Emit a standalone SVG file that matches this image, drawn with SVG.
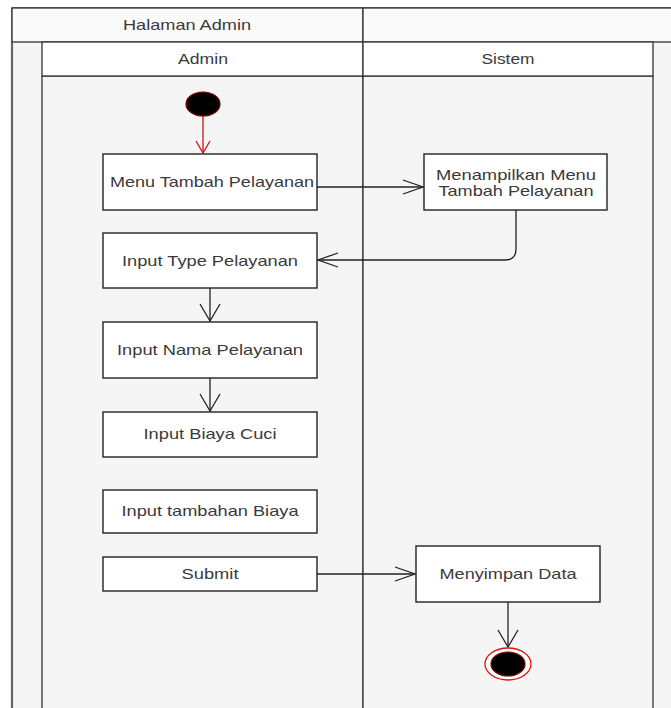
<svg xmlns="http://www.w3.org/2000/svg" width="671" height="708" viewBox="0 0 671 708">
  <style>
    .lane { fill: #f5f5f5; stroke: #333; stroke-width: 1.3; }
    .hdr { fill: #ffffff; stroke: #333; stroke-width: 1.3; }
    .act { fill: #ffffff; stroke: #222; stroke-width: 1.4; }
    .lbl { font-family: "Liberation Sans", Arial, sans-serif; font-size: 15px; fill: #3a3a3a; text-anchor: middle; }
    .edge { fill: none; stroke: #222; stroke-width: 1.3; }
    .edge-red { fill: none; stroke: #d01010; stroke-width: 1.3; }
  </style>
  <defs>
    <marker id="arrH" markerUnits="userSpaceOnUse" markerWidth="24" markerHeight="20" viewBox="-21 -10 24 20" refX="0" refY="0" orient="auto">
      <path d="M-20,-7 L0,0 L-20,7" fill="none" stroke="#222" stroke-width="1.3"/>
    </marker>
    <marker id="arrV" markerUnits="userSpaceOnUse" markerWidth="24" markerHeight="24" viewBox="-19 -12 22 24" refX="0" refY="0" orient="auto">
      <path d="M-17,-10 L0,0 L-17,10" fill="none" stroke="#222" stroke-width="1.3"/>
    </marker>
    <marker id="arrRed" markerUnits="userSpaceOnUse" markerWidth="16" markerHeight="18" viewBox="-14 -9 16 18" refX="0" refY="0" orient="auto">
      <path d="M-12,-7 L0,0 L-12,7" fill="none" stroke="#d01010" stroke-width="1.3"/>
    </marker>
  </defs>

  <!-- page -->
  <rect x="0" y="0" width="671" height="708" fill="#ffffff"/>

  <!-- pool frame and lanes -->
  <g id="pool">
    <rect x="12" y="8" width="670" height="710" fill="#f5f5f5" stroke="#333" stroke-width="1.3"/>
    <line x1="12" y1="42" x2="12" y2="708" stroke="#666" stroke-width="2.2"/>
    <rect x="12" y="8" width="351" height="34" fill="#fafafa" stroke="#333" stroke-width="1.3"/>
    <rect x="363" y="8" width="320" height="34" fill="#fafafa" stroke="#333" stroke-width="1.3"/>
    <text class="lbl" x="187" y="30" textLength="128" lengthAdjust="spacingAndGlyphs">Halaman Admin</text>
  </g>

  <g id="lane-admin">
    <rect class="lane" x="42" y="76" width="321" height="640"/>
    <rect class="hdr" x="42" y="42" width="321" height="34"/>
    <text class="lbl" x="203" y="64" textLength="50" lengthAdjust="spacingAndGlyphs">Admin</text>
  </g>

  <g id="lane-sistem">
    <rect class="lane" x="363" y="76" width="290" height="640"/>
    <rect class="hdr" x="363" y="42" width="290" height="34"/>
    <text class="lbl" x="508" y="64" textLength="53" lengthAdjust="spacingAndGlyphs">Sistem</text>
  </g>

  <!-- connectors -->
  <g id="connectors">
    <line class="edge-red" x1="203" y1="116" x2="203" y2="153" marker-end="url(#arrRed)"/>
    <line class="edge" x1="317" y1="187" x2="423" y2="187" marker-end="url(#arrH)"/>
    <path class="edge" d="M516,210 V249 Q516,260 505,260 H318" marker-end="url(#arrH)"/>
    <line class="edge" x1="210" y1="288" x2="210" y2="321" marker-end="url(#arrV)"/>
    <line class="edge" x1="210" y1="378" x2="210" y2="411" marker-end="url(#arrV)"/>
    <line class="edge" x1="317" y1="574" x2="415" y2="574" marker-end="url(#arrH)"/>
    <line class="edge" x1="508" y1="602" x2="508" y2="647" marker-end="url(#arrV)"/>
  </g>

  <!-- nodes -->
  <g id="start">
    <ellipse cx="203" cy="104" rx="17" ry="12" fill="#000" stroke="#7a0000" stroke-width="1.2"/>
  </g>

  <g id="menu-tambah">
    <rect class="act" x="103" y="154" width="214" height="56"/>
    <text class="lbl" x="212" y="187" textLength="204" lengthAdjust="spacingAndGlyphs">Menu Tambah Pelayanan</text>
  </g>

  <g id="tampil-menu">
    <rect class="act" x="424" y="154" width="183" height="56"/>
    <text class="lbl" x="516" y="180" textLength="160" lengthAdjust="spacingAndGlyphs">Menampilkan Menu</text>
    <text class="lbl" x="516" y="196" textLength="155" lengthAdjust="spacingAndGlyphs">Tambah Pelayanan</text>
  </g>

  <g id="input-type">
    <rect class="act" x="103" y="233" width="214" height="55"/>
    <text class="lbl" x="210" y="266" textLength="176" lengthAdjust="spacingAndGlyphs">Input Type Pelayanan</text>
  </g>

  <g id="input-nama">
    <rect class="act" x="103" y="322" width="214" height="56"/>
    <text class="lbl" x="210" y="355" textLength="186" lengthAdjust="spacingAndGlyphs">Input Nama Pelayanan</text>
  </g>

  <g id="input-biaya">
    <rect class="act" x="103" y="412" width="214" height="45"/>
    <text class="lbl" x="210" y="439" textLength="133" lengthAdjust="spacingAndGlyphs">Input Biaya Cuci</text>
  </g>

  <g id="input-tambahan">
    <rect class="act" x="103" y="490" width="214" height="43"/>
    <text class="lbl" x="210" y="516" textLength="177" lengthAdjust="spacingAndGlyphs">Input tambahan Biaya</text>
  </g>

  <g id="submit">
    <rect class="act" x="103" y="557" width="214" height="34"/>
    <text class="lbl" x="210" y="579" textLength="57" lengthAdjust="spacingAndGlyphs">Submit</text>
  </g>

  <g id="simpan-data">
    <rect class="act" x="416" y="546" width="184" height="56"/>
    <text class="lbl" x="508" y="579" textLength="137" lengthAdjust="spacingAndGlyphs">Menyimpan Data</text>
  </g>

  <g id="end">
    <ellipse cx="508" cy="664" rx="23" ry="16" fill="#ffffff" stroke="#e01010" stroke-width="1.3"/>
    <ellipse cx="508" cy="664" rx="17" ry="12" fill="#000" stroke="#7a0000" stroke-width="1.2"/>
  </g>
</svg>
